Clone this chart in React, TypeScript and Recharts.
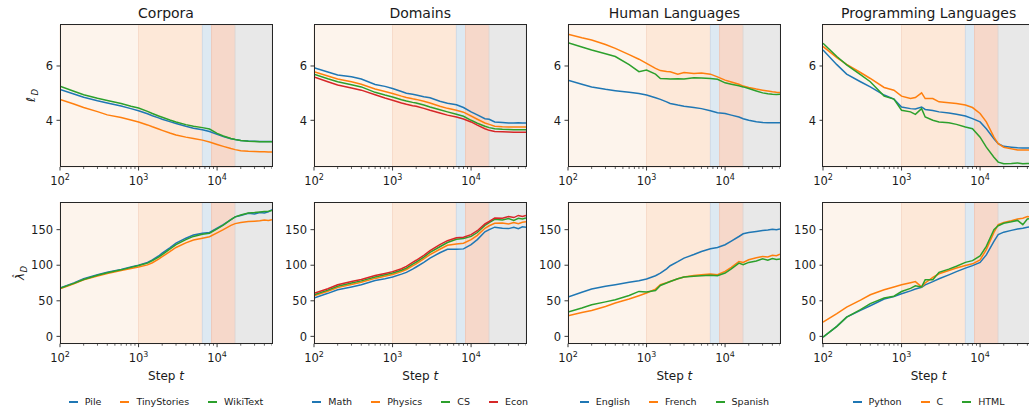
import React from 'react'
import { LineChart, Line, XAxis, YAxis, ReferenceArea } from 'recharts'

// training steps shared by every curve
const steps = [100, 150, 200, 300, 400, 600, 800, 1000, 1300, 1500, 1800, 2000, 2500, 3000, 4000, 5000, 6500, 8000, 10000, 12000, 15000, 17000, 20000, 25000, 30000, 35000, 40000, 45000, 50000]

// Corpora
const pileLoss = [5.14, 4.97, 4.85, 4.72, 4.64, 4.53, 4.43, 4.35, 4.24, 4.17, 4.09, 4.04, 3.95, 3.88, 3.78, 3.71, 3.65, 3.59, 3.48, 3.40, 3.32, 3.29, 3.26, 3.24, 3.23, 3.22, 3.22, 3.22, 3.22]
const tinyStoriesLoss = [4.77, 4.60, 4.47, 4.32, 4.20, 4.10, 4.01, 3.94, 3.83, 3.76, 3.68, 3.63, 3.53, 3.46, 3.38, 3.33, 3.27, 3.20, 3.11, 3.04, 2.96, 2.92, 2.88, 2.86, 2.85, 2.84, 2.84, 2.83, 2.83]
const wikiTextLoss = [5.26, 5.07, 4.94, 4.81, 4.73, 4.62, 4.52, 4.45, 4.33, 4.25, 4.16, 4.11, 4.01, 3.94, 3.84, 3.78, 3.73, 3.68, 3.52, 3.42, 3.33, 3.29, 3.26, 3.23, 3.22, 3.21, 3.21, 3.21, 3.21]
const pileLambda = [68, 75, 81, 86.5, 90, 94, 97.5, 100, 104, 107.5, 113, 117, 124.5, 131, 138, 142.5, 145, 146, 152, 157, 164, 168, 170, 173, 172, 174, 173.5, 175, 178]
const tinyStoriesLambda = [67, 74, 79.5, 85, 88.5, 92.5, 95.5, 97.5, 100.5, 103.5, 108.5, 112, 119, 125, 131.5, 135.5, 138, 140, 145.5, 150, 156, 158.5, 160, 161.5, 162, 162.5, 163.5, 163, 164]
const wikiTextLambda = [67.5, 74.5, 80, 86, 89.5, 93.5, 97, 99.5, 103, 106.5, 111.5, 115, 122.5, 129, 136, 140.5, 143.5, 145, 151, 156.5, 164, 168, 170.5, 173.5, 174, 175, 175.5, 176, 177]

// Domains
const mathLoss = [5.94, 5.78, 5.67, 5.60, 5.52, 5.32, 5.25, 5.17, 5.06, 5.00, 4.96, 4.93, 4.87, 4.83, 4.70, 4.63, 4.57, 4.47, 4.31, 4.20, 4.06, 4.04, 3.94, 3.92, 3.90, 3.90, 3.91, 3.90, 3.90]
const physicsLoss = [5.79, 5.63, 5.52, 5.42, 5.33, 5.15, 5.06, 4.99, 4.89, 4.84, 4.79, 4.77, 4.70, 4.64, 4.52, 4.44, 4.37, 4.30, 4.16, 4.04, 3.90, 3.85, 3.78, 3.76, 3.75, 3.75, 3.75, 3.75, 3.75]
const csLoss = [5.70, 5.53, 5.42, 5.31, 5.23, 5.03, 4.93, 4.86, 4.76, 4.71, 4.66, 4.64, 4.56, 4.49, 4.39, 4.31, 4.22, 4.15, 4.00, 3.89, 3.78, 3.73, 3.69, 3.67, 3.66, 3.65, 3.65, 3.65, 3.65]
const econLoss = [5.60, 5.42, 5.30, 5.19, 5.11, 4.94, 4.82, 4.74, 4.64, 4.59, 4.54, 4.52, 4.44, 4.37, 4.27, 4.19, 4.12, 4.05, 3.94, 3.82, 3.69, 3.63, 3.59, 3.58, 3.57, 3.56, 3.56, 3.56, 3.56]
const mathLambda = [54, 60.5, 65.5, 69.5, 72.5, 78.5, 81, 83.5, 87.5, 90, 94.5, 97.5, 104, 110, 117.5, 122.5, 122.5, 123, 129, 136, 147, 150, 153.5, 152, 151.5, 153.5, 151.5, 154, 153.5]
const physicsLambda = [57, 63.5, 68.5, 73, 76, 81.5, 84.5, 87, 91, 94, 99, 102, 109, 115, 122.5, 128, 130, 131, 136, 142, 152, 155.5, 159, 159.5, 158, 160, 158.5, 160.5, 161]
const csLambda = [58.5, 65, 70.5, 75, 78, 83.5, 86.5, 89, 93, 96, 101.5, 104.5, 111.5, 118, 126, 132, 136.5, 137.5, 140.5, 146, 156, 160, 164.5, 163.5, 165.5, 163, 166, 165, 166.5]
const econLambda = [60.5, 67, 72.5, 77, 80, 85.5, 88.5, 91, 95, 98.5, 104, 107, 114, 120.5, 129, 134.5, 138.5, 139.5, 143, 148.5, 158, 161.5, 166.5, 166, 168.5, 167, 170, 168.5, 170]

// Human languages
const englishLoss = [5.48, 5.33, 5.23, 5.14, 5.09, 5.03, 4.99, 4.93, 4.83, 4.77, 4.68, 4.62, 4.56, 4.52, 4.47, 4.43, 4.35, 4.28, 4.25, 4.19, 4.12, 4.06, 4.00, 3.95, 3.92, 3.91, 3.91, 3.91, 3.91]
const frenchLoss = [7.17, 7.04, 6.96, 6.79, 6.65, 6.42, 6.25, 6.10, 5.91, 5.83, 5.80, 5.79, 5.70, 5.76, 5.72, 5.74, 5.70, 5.60, 5.48, 5.41, 5.33, 5.26, 5.21, 5.15, 5.11, 5.08, 5.05, 5.03, 5.02]
const spanishLoss = [6.86, 6.70, 6.59, 6.45, 6.35, 6.05, 5.79, 5.85, 5.70, 5.54, 5.53, 5.52, 5.53, 5.52, 5.57, 5.56, 5.54, 5.51, 5.38, 5.33, 5.27, 5.23, 5.17, 5.08, 5.01, 4.98, 4.96, 4.95, 4.96]
const englishLambda = [55.3, 62, 66.5, 70.5, 72.6, 76, 78.2, 80.6, 85.2, 89, 95, 99.3, 105, 110, 115, 119.4, 123.2, 125, 128.8, 134, 140.4, 144.2, 146, 147.5, 148.9, 149.5, 150.5, 150, 151]
const frenchLambda = [29, 33.5, 36.5, 42, 46.9, 52.5, 57.2, 60.9, 66.5, 72.6, 75.5, 77.2, 81, 83.4, 85.5, 86.6, 87.6, 86.6, 91.3, 97, 105.3, 104, 107.7, 110.5, 112.4, 111.5, 114, 113.5, 115.7]
const spanishLambda = [34.2, 40, 44.5, 48.5, 51.5, 57.5, 63.2, 62.4, 64.5, 71.6, 75, 77.2, 81, 83.4, 84.5, 85.2, 85.8, 85.2, 89, 95, 103, 100.6, 104, 106, 109.1, 107, 109.5, 108, 108.7]

// Programming languages
const pythonLoss = [6.59, 6.05, 5.70, 5.42, 5.23, 4.93, 4.78, 4.49, 4.43, 4.42, 4.49, 4.40, 4.36, 4.31, 4.27, 4.22, 4.16, 4.06, 3.94, 3.69, 3.32, 3.14, 3.04, 3.01, 2.99, 2.98, 2.98, 2.98, 2.98]
const cLoss = [6.72, 6.31, 6.06, 5.76, 5.54, 5.21, 5.11, 4.89, 4.80, 4.84, 5.01, 4.80, 4.80, 4.68, 4.65, 4.62, 4.56, 4.47, 4.25, 3.94, 3.38, 3.14, 3.01, 2.95, 2.91, 2.91, 2.91, 2.91, 2.91]
const htmlLoss = [6.84, 6.35, 6.04, 5.68, 5.42, 4.89, 4.78, 4.37, 4.31, 4.22, 4.43, 4.12, 4.00, 3.94, 3.91, 3.85, 3.75, 3.69, 3.38, 3.01, 2.64, 2.46, 2.40, 2.41, 2.43, 2.40, 2.41, 2.40, 2.40]
const pythonLambda = [-1, 14, 27, 36.5, 43, 52.5, 56, 60, 64, 66.5, 69, 72.5, 77, 81, 86.5, 91, 96, 99.5, 104, 114.5, 133.5, 143, 146.5, 149, 151, 152, 153.5, 154, 154]
const cLambda = [20, 32, 41, 51, 58.5, 65.5, 69.5, 72.5, 75.5, 77, 69.5, 75, 83, 88, 92.5, 96, 99.5, 102, 107.5, 122, 146, 157, 160, 162.5, 165, 166, 168.5, 167.5, 168]
const htmlLambda = [-1, 14, 27, 37.5, 46, 54, 56.5, 63, 67.5, 71, 69.5, 79.5, 79.5, 90, 94.5, 98.5, 104, 106.5, 113, 126.5, 150, 155.5, 159, 161, 163, 157, 165, 166, 166.5]

// log-axis tick positions (majors get a label)
const xTicks = [100, 200, 300, 400, 500, 600, 700, 800, 900, 1000, 2000, 3000, 4000, 5000, 6000, 7000, 8000, 9000, 10000, 20000, 30000, 40000, 50000]
const xMajor = [100, 1000, 10000]

// training phases shaded behind the curves
const phaseEdges = [100, 1000, 6500, 8500, 17000, 50000]
const phaseFills = ['#fdf4ec', '#fde8d8', '#dde9f2', '#f6d8ca', '#e8e8e8']
const phaseStrokes = ['#f9eadf', '#f7dbc9', '#cfdce8', '#eecabb', '#dcdcdc']

const COLORS = ['#1f77b4', '#ff7f0e', '#2ca02c', '#d62728']
const FONT = '"DejaVu Sans", Verdana, sans-serif'
const INK = '#1a1a1a'

type Series = { name: string; loss: number[]; lambda: number[] }
type PanelDef = { title: string; series: Series[] }

const panels: PanelDef[] = [
  {
    title: 'Corpora',
    series: [
      { name: 'Pile', loss: pileLoss, lambda: pileLambda },
      { name: 'TinyStories', loss: tinyStoriesLoss, lambda: tinyStoriesLambda },
      { name: 'WikiText', loss: wikiTextLoss, lambda: wikiTextLambda },
    ],
  },
  {
    title: 'Domains',
    series: [
      { name: 'Math', loss: mathLoss, lambda: mathLambda },
      { name: 'Physics', loss: physicsLoss, lambda: physicsLambda },
      { name: 'CS', loss: csLoss, lambda: csLambda },
      { name: 'Econ', loss: econLoss, lambda: econLambda },
    ],
  },
  {
    title: 'Human Languages',
    series: [
      { name: 'English', loss: englishLoss, lambda: englishLambda },
      { name: 'French', loss: frenchLoss, lambda: frenchLambda },
      { name: 'Spanish', loss: spanishLoss, lambda: spanishLambda },
    ],
  },
  {
    title: 'Programming Languages',
    series: [
      { name: 'Python', loss: pythonLoss, lambda: pythonLambda },
      { name: 'C', loss: cLoss, lambda: cLambda },
      { name: 'HTML', loss: htmlLoss, lambda: htmlLambda },
    ],
  },
]

const PLOT_W = 212
const AXIS_W = 40
const AXIS_H = 30
const PLOT_LEFT = 60
const COL_STEP = 254.2

const ROWS = [
  { top: 24.7, height: 142, domain: [2.28, 7.51], ticks: [4, 6], key: 'loss' as const },
  { top: 202.3, height: 141.7, domain: [-10.3, 188.9], ticks: [0, 50, 100, 150], key: 'lambda' as const },
]

function XTick(props: any) {
  const { x, y, payload } = props
  const v = payload.value
  const major = xMajor.includes(v)
  return (
    <g>
      <line x1={x} x2={x} y1={y} y2={y + (major ? 3.5 : 2)} stroke="#222" strokeWidth={major ? 0.9 : 0.7} />
      {major && (
        <text x={x} y={y + 18} textAnchor="middle" fontSize={11.5} fill={INK} fontFamily={FONT}>
          10<tspan dy={-5} fontSize={8}>{Math.round(Math.log10(v))}</tspan>
        </text>
      )}
    </g>
  )
}

function YTick(props: any) {
  const { x, y, payload } = props
  return (
    <g>
      <line x1={x - 3.5} x2={x} y1={y} y2={y} stroke="#222" strokeWidth={0.9} />
      <text x={x - 7} y={y + 4.2} textAnchor="end" fontSize={11.5} fill={INK} fontFamily={FONT}>
        {payload.value}
      </text>
    </g>
  )
}

function Panel({ col, row, panel }: { col: number; row: number; panel: PanelDef }) {
  const r = ROWS[row]
  const left = PLOT_LEFT + col * COL_STEP
  const data = steps.map((t, i) => {
    const d: Record<string, number> = { t }
    panel.series.forEach((s, k) => {
      d['s' + k] = s[r.key][i]
    })
    return d
  })
  return (
    <div style={{ position: 'absolute', left: left - AXIS_W, top: r.top }}>
      <LineChart width={AXIS_W + PLOT_W} height={r.height + AXIS_H} data={data} margin={{ top: 0, right: 0, bottom: 0, left: 0 }}>
        <XAxis
          dataKey="t" type="number" scale="log" domain={[100, 50000]} allowDataOverflow
          ticks={xTicks} interval={0} height={AXIS_H} tickSize={0} tickMargin={0}
          axisLine={false} tickLine={false} tick={(p: any) => <XTick {...p} />}
        />
        <YAxis
          type="number" domain={r.domain} allowDataOverflow ticks={r.ticks} interval={0}
          width={AXIS_W} tickSize={0} tickMargin={0} axisLine={false} tickLine={false}
          tick={(p: any) => <YTick {...p} />}
        />
        {phaseFills.map((fill, i) => (
          <ReferenceArea
            key={i} x1={phaseEdges[i]} x2={phaseEdges[i + 1]}
            fill={fill} fillOpacity={1} stroke={phaseStrokes[i]} strokeWidth={1}
          />
        ))}
        {panel.series.map((s, k) => (
          <Line
            key={s.name} dataKey={'s' + k} type="linear" stroke={COLORS[k]}
            strokeWidth={1.5} dot={false} activeDot={false} isAnimationActive={false}
          />
        ))}
      </LineChart>
      {/* axes frame */}
      <div
        style={{
          position: 'absolute', left: AXIS_W - 0.5, top: -0.5, width: PLOT_W + 1, height: r.height + 1,
          border: '1px solid #262626', boxSizing: 'border-box', pointerEvents: 'none',
        }}
      />
    </div>
  )
}

function Legend({ col, panel }: { col: number; panel: PanelDef }) {
  const left = PLOT_LEFT + col * COL_STEP
  return (
    <div
      style={{
        position: 'absolute', left: left - 40, width: PLOT_W + 80, top: 396, height: 12,
        display: 'flex', justifyContent: 'center', alignItems: 'center', gap: 19,
        fontFamily: FONT, fontSize: 9.5, lineHeight: '12px', color: INK, whiteSpace: 'nowrap',
      }}
    >
      {panel.series.map((s, k) => (
        <span key={s.name} style={{ display: 'flex', alignItems: 'center' }}>
          <span style={{ display: 'inline-block', width: 9, height: 1.6, background: COLORS[k], marginRight: 7 }} />
          {s.name}
        </span>
      ))}
    </div>
  )
}

export default function App() {
  return (
    <div
      style={{
        position: 'fixed', left: 0, top: 0, width: 1029, height: 407,
        overflow: 'hidden', background: '#fff', fontFamily: FONT,
      }}
    >
      {panels.map((p, c) => (
        <React.Fragment key={p.title}>
          <Panel col={c} row={0} panel={p} />
          <Panel col={c} row={1} panel={p} />
          <Legend col={c} panel={p} />
        </React.Fragment>
      ))}
      <svg width={1029} height={407} style={{ position: 'absolute', left: 0, top: 0, pointerEvents: 'none' }}>
        {panels.map((p, c) => {
          const cx = PLOT_LEFT + c * COL_STEP + PLOT_W / 2
          return (
            <g key={p.title} fontFamily={FONT} fill={INK}>
              <text x={cx} y={17.5} textAnchor="middle" fontSize={14}>{p.title}</text>
              <text x={cx} y={380} textAnchor="middle" fontSize={12}>
                Step <tspan fontStyle="italic">t</tspan>
              </text>
            </g>
          )
        })}
        {/* y labels, rotated; local x runs up the page, local y runs right */}
        <g transform="rotate(-90 35 96)" fontFamily={FONT} fill={INK} fontStyle="italic">
          <text x={35 - 6} y={96} fontSize={12}>ℓ</text>
          <text x={35 + 0.5} y={98.5} fontSize={8.5}>D</text>
        </g>
        <g transform="rotate(-90 24 273)" fontFamily={FONT} fill={INK} fontStyle="italic">
          <text x={24 - 7} y={273} fontSize={12}>λ</text>
          <text x={24 - 5.5} y={273 - 3.5} fontSize={10} fontStyle="normal">ˆ</text>
          <text x={24 + 0.5} y={275.5} fontSize={8.5}>D</text>
        </g>
      </svg>
    </div>
  )
}
